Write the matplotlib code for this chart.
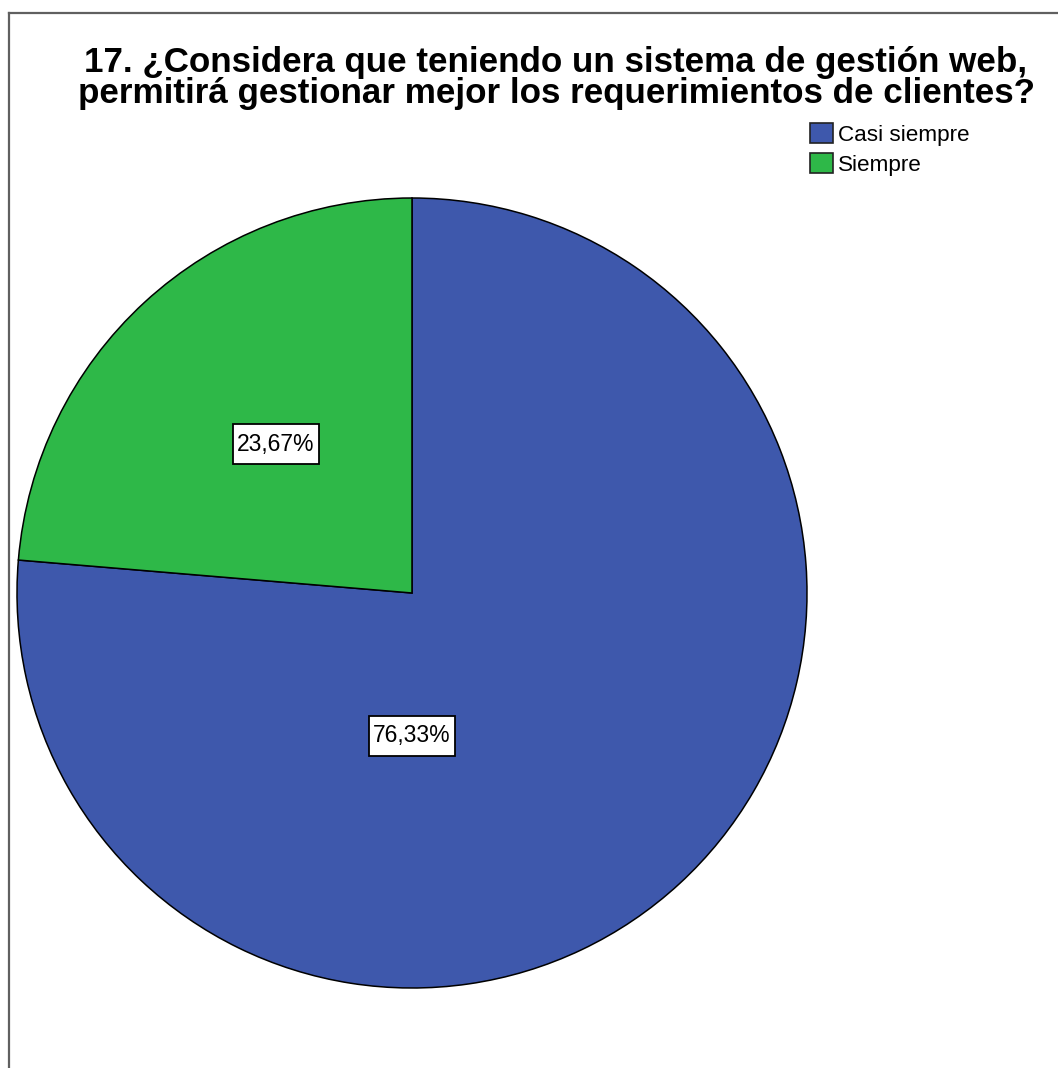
import matplotlib.pyplot as plt
from matplotlib.patches import Patch, Rectangle

plt.rcParams['font.family'] = ['Liberation Sans', 'DejaVu Sans']

categories = ['Casi siempre', 'Siempre']
percentages = [76.33, 23.67]
colors = ['#3e58ac', '#2eb848']
title = ('17. ¿Considera que teniendo un sistema de gestión web,\n'
         'permitirá gestionar mejor los requerimientos de clientes?')

W, H = 1058, 1068
fig = plt.figure(figsize=(W / 100, H / 100), dpi=100)

# outer frame, only the top and left edges are visible
fig.add_artist(plt.Line2D([8.5 / W, 8.5 / W], [0, 1 - 13 / H], color='#606060', lw=1.6))
fig.add_artist(plt.Line2D([8.5 / W, 1], [1 - 13 / H, 1 - 13 / H], color='#606060', lw=1.6))

# pie axes: centre (412, 593) px, radius 395 px
cx, cy, r = 412, 593, 395
ax = fig.add_axes([(cx - r) / W, (H - cy - r) / H, 2 * r / W, 2 * r / H])

wedges, _ = ax.pie(percentages, colors=colors, startangle=90, counterclock=False,
                   radius=1, wedgeprops=dict(edgecolor='black', linewidth=1.1))
ax.set_xlim(-1, 1)
ax.set_ylim(-1, 1)
ax.axis('off')

# value labels in boxed white frames
label_pos = [(0.0, -0.362), (-0.344, 0.376)]
labels = []
for val, (x, y) in zip(percentages, label_pos):
    t = ax.text(x, y, f'{val:.2f}%'.replace('.', ','), ha='center', va='center',
                fontsize=16.5, color='black', zorder=4)
    labels.append(t)

fig.canvas.draw()
inv = ax.transData.inverted()
for t in labels:
    bb = t.get_window_extent()
    ymid = (bb.y0 + bb.y1) / 2
    (x0, y0), (x1, y1) = inv.transform([(bb.x0 - 4, ymid - 20), (bb.x1 + 4, ymid + 20)])
    ax.add_patch(Rectangle((x0, y0), x1 - x0, y1 - y0, facecolor='white',
                           edgecolor='black', lw=1.3, zorder=3))

fig.text(556 / W, 1 - 78 / H, title, ha='center', va='center', fontsize=25.2,
         fontweight='bold', linespacing=0.95)

handles = [Patch(facecolor=c, edgecolor='#222222', lw=1.2) for c in colors]
fig.legend(handles, categories, loc='upper left', bbox_to_anchor=(810 / W, 1 - 123 / H),
           frameon=False, fontsize=16.2, handlelength=1.0, handleheight=1.0,
           handletextpad=0.25, labelspacing=0.32, borderpad=0, borderaxespad=0)

fig.savefig('out.png', dpi=100, facecolor='white')
